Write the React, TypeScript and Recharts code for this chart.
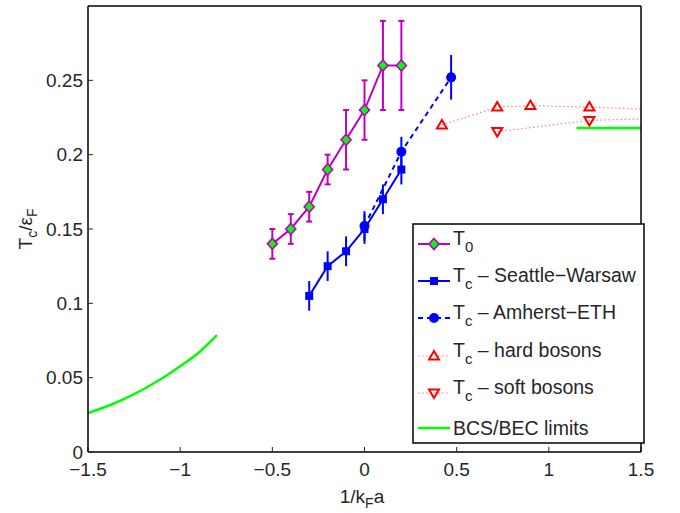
import React from 'react';
import { ComposedChart, Line, XAxis, YAxis, ErrorBar } from 'recharts';

// ---------------- data ----------------
const X_TICKS = [-1.5, -1, -0.5, 0, 0.5, 1, 1.5];
const Y_TICKS = [0, 0.05, 0.1, 0.15, 0.2, 0.25];
const X_DOMAIN: [number, number] = [-1.5, 1.5];
const Y_DOMAIN: [number, number] = [0, 0.3];

const T0_X = [-0.5, -0.4, -0.3, -0.2, -0.1, 0, 0.1, 0.2];
const T0_Y = [0.14, 0.15, 0.165, 0.19, 0.21, 0.23, 0.26, 0.26];
const T0_ERR = [0.01, 0.01, 0.01, 0.01, 0.02, 0.02, 0.03, 0.03];

const SW_X = [-0.3, -0.2, -0.1, 0, 0.1, 0.2];
const SW_Y = [0.105, 0.125, 0.135, 0.15, 0.17, 0.19];
const SW_ERR = [0.01, 0.01, 0.01, 0.01, 0.01, 0.01];

const AE_X = [0, 0.2, 0.47];
const AE_Y = [0.152, 0.202, 0.252];
const AE_ERR = [0.01, 0.01, 0.015];

const HARD_X = [0.42, 0.72, 0.9, 1.22, 2.0];
const HARD_Y = [0.22, 0.232, 0.233, 0.232, 0.2285];

const SOFT_X = [0.72, 1.22, 2.0];
const SOFT_Y = [0.2155, 0.223, 0.226];

const BCS_X = [-1.5, -1.4, -1.3, -1.2, -1.1, -1.0, -0.9, -0.8];
const BCS_Y = [0.0262, 0.0306, 0.0359, 0.0422, 0.0494, 0.0577, 0.0668, 0.0786];
const BEC_X = [1.15, 1.5];
const BEC_Y = [0.218, 0.218];

const LEGEND_MAIN = ['T', 'T', 'T', 'T', 'T', 'BCS/BEC limits'];
const LEGEND_SUB = ['0', 'c', 'c', 'c', 'c', ''];
const LEGEND_REST = ['', ' \u2013 Seattle\u2212Warsaw', ' \u2013 Amherst\u2212ETH', ' \u2013 hard bosons', ' \u2013 soft bosons', ''];

// ---------------- style ----------------
const FONT = '"Liberation Sans", Arial, Helvetica, sans-serif';
const TXT = '#262626';
const MAG = '#bf00bf';
const GREEN = '#00ff00';
const BLUE = '#0000ff';
const RED = '#ff0000';
const DOT_RED = '#ff8080';

const t0Data = T0_X.map((x, i) => ({ x, y: T0_Y[i], err: T0_ERR[i] }));
const swData = SW_X.map((x, i) => ({ x, y: SW_Y[i], err: SW_ERR[i] }));
const aeData = AE_X.map((x, i) => ({ x, y: AE_Y[i], err: AE_ERR[i] }));
const hardData = HARD_X.map((x, i) => ({ x, y: HARD_Y[i] }));
const softData = SOFT_X.map((x, i) => ({ x, y: SOFT_Y[i] }));
const limData = [
  ...BCS_X.map((x, i) => ({ x, y: BCS_Y[i] as number | null })),
  { x: 0, y: null },
  ...BEC_X.map((x, i) => ({ x, y: BEC_Y[i] as number | null })),
];

function Marker({ kind, cx, cy }: { kind: string; cx: number; cy: number }) {
  switch (kind) {
    case 'diamond':
      return (
        <path
          d={`M${cx},${cy - 5.5}L${cx + 5},${cy}L${cx},${cy + 5.5}L${cx - 5},${cy}Z`}
          fill={GREEN}
          stroke={MAG}
          strokeWidth={1.6}
        />
      );
    case 'square':
      return <rect x={cx - 4} y={cy - 4} width={8} height={8} fill={BLUE} />;
    case 'circle':
      return <circle cx={cx} cy={cy} r={5} fill={BLUE} />;
    case 'up':
      return (
        <path
          d={`M${cx},${cy - 5}L${cx + 5},${cy + 3.5}L${cx - 5},${cy + 3.5}Z`}
          fill="none"
          stroke={RED}
          strokeWidth={2}
        />
      );
    case 'down':
      return (
        <path
          d={`M${cx},${cy + 5}L${cx + 5},${cy - 3.5}L${cx - 5},${cy - 3.5}Z`}
          fill="none"
          stroke={RED}
          strokeWidth={2}
        />
      );
    default:
      return null;
  }
}

function makeDot(kind: string) {
  return (p: any) => {
    const { cx, cy, index, payload } = p;
    const key = `${kind}-${index}`;
    if (cx == null || cy == null || payload == null || payload.y == null || payload.x > X_DOMAIN[1]) {
      return <g key={key} />;
    }
    return (
      <g key={key}>
        <Marker kind={kind} cx={cx} cy={cy} />
      </g>
    );
  };
}

const fmt = (v: number) => (v < 0 ? '\u2212' + String(Math.abs(v)) : String(v));

const LEG_STYLE = [
  { color: MAG, dash: undefined as string | undefined, marker: 'diamond', w: 2 },
  { color: BLUE, dash: undefined, marker: 'square', w: 2 },
  { color: BLUE, dash: '5 4', marker: 'circle', w: 2 },
  { color: DOT_RED, dash: '1.5 2.5', marker: 'up', w: 1.2 },
  { color: DOT_RED, dash: '1.5 2.5', marker: 'down', w: 1.2 },
  { color: GREEN, dash: undefined, marker: '', w: 2.5 },
];

function Overlay() {
  const lx = 413;
  const ly = 224;
  const rowY = [244, 281, 318, 356, 393, 428];
  return (
    <svg
      width={680}
      height={513}
      style={{ position: 'absolute', left: 0, top: 0, pointerEvents: 'none' }}
      fontFamily={FONT}
    >
      {/* y label */}
      <text
        transform="translate(32,229) rotate(-90)"
        textAnchor="middle"
        fontSize={19}
        fill={TXT}
      >
        T<tspan fontSize={14} dy={5}>c</tspan>
        <tspan dy={-5}>/</tspan>
        <tspan>ε</tspan>
        <tspan fontSize={14} dy={5}>F</tspan>
      </text>
      {/* x label */}
      <text x={362} y={503} textAnchor="middle" fontSize={19} fill={TXT}>
        1/k<tspan fontSize={14} dy={5}>F</tspan>
        <tspan dy={-5}>a</tspan>
      </text>
      {/* legend */}
      <rect x={lx} y={ly} width={231} height={219} fill="#fff" stroke="#000" strokeWidth={1.5} />
      {LEGEND_MAIN.map((m, i) => {
        const st = LEG_STYLE[i];
        const y = rowY[i];
        return (
          <g key={i}>
            <line x1={418} x2={450} y1={y} y2={y} stroke={st.color} strokeWidth={st.w} strokeDasharray={st.dash} />
            {st.marker && <Marker kind={st.marker} cx={434} cy={y} />}
            {LEGEND_SUB[i] ? (
              <text x={453} y={y + 1} fontSize={19.5} fill={TXT}>
                {m}
                <tspan fontSize={15} dy={7}>{LEGEND_SUB[i]}</tspan>
                <tspan dy={-7}>{LEGEND_REST[i]}</tspan>
              </text>
            ) : (
              <text x={453} y={y + 7} fontSize={19.5} fill={TXT}>
                {m}
              </text>
            )}
          </g>
        );
      })}
    </svg>
  );
}

export default function App() {
  return (
    <div style={{ position: 'absolute', left: 0, top: 0, width: 680, height: 513, background: '#fff' }}>
      <ComposedChart width={680} height={513} margin={{ top: 5, right: 38, bottom: 0, left: 0 }}>
        <XAxis
          dataKey="x"
          type="number"
          domain={X_DOMAIN}
          ticks={X_TICKS}
          allowDataOverflow
          height={61}
          tickSize={-5}
          tickMargin={16}
          tickFormatter={fmt}
          axisLine={{ stroke: '#000', strokeWidth: 1.5 }}
          tickLine={{ stroke: TXT, strokeWidth: 1 }}
          tick={{ fill: TXT, fontSize: 19, fontFamily: FONT }}
          interval={0}
        />
        <XAxis
          xAxisId="top"
          orientation="top"
          dataKey="x"
          type="number"
          domain={X_DOMAIN}
          ticks={X_TICKS}
          allowDataOverflow
          height={1}
          tickSize={-5}
          tick={false}
          axisLine={{ stroke: '#000', strokeWidth: 1.5 }}
          tickLine={{ stroke: TXT, strokeWidth: 1 }}
          interval={0}
        />
        <YAxis
          type="number"
          domain={Y_DOMAIN}
          ticks={Y_TICKS}
          allowDataOverflow
          width={88}
          tickSize={-5}
          tickMargin={10}
          axisLine={{ stroke: '#000', strokeWidth: 1.5 }}
          tickLine={{ stroke: TXT, strokeWidth: 1 }}
          tick={{ fill: TXT, fontSize: 19, fontFamily: FONT }}
          interval={0}
        />
        <YAxis
          yAxisId="right"
          orientation="right"
          type="number"
          domain={Y_DOMAIN}
          ticks={Y_TICKS}
          allowDataOverflow
          width={1}
          tickSize={-5}
          tick={false}
          axisLine={{ stroke: '#000', strokeWidth: 1.5 }}
          tickLine={{ stroke: TXT, strokeWidth: 1 }}
          interval={0}
        />
        <Line
          data={limData}
          dataKey="y"
          type="monotone"
          stroke={GREEN}
          strokeWidth={2.5}
          dot={false}
          activeDot={false}
          connectNulls={false}
          isAnimationActive={false}
        />
        <Line
          data={hardData}
          dataKey="y"
          stroke={DOT_RED}
          strokeWidth={1.2}
          strokeDasharray="1.5 2.5"
          dot={makeDot('up')}
          activeDot={false}
          isAnimationActive={false}
        />
        <Line
          data={softData}
          dataKey="y"
          stroke={DOT_RED}
          strokeWidth={1.2}
          strokeDasharray="1.5 2.5"
          dot={makeDot('down')}
          activeDot={false}
          isAnimationActive={false}
        />
        <Line
          data={t0Data}
          dataKey="y"
          stroke={MAG}
          strokeWidth={2}
          dot={makeDot('diamond')}
          activeDot={false}
          isAnimationActive={false}
        >
          <ErrorBar dataKey="err" direction="y" width={3} stroke={MAG} strokeWidth={2} />
        </Line>
        <Line
          data={swData}
          dataKey="y"
          stroke={BLUE}
          strokeWidth={2}
          dot={makeDot('square')}
          activeDot={false}
          isAnimationActive={false}
        >
          <ErrorBar dataKey="err" direction="y" width={0} stroke={BLUE} strokeWidth={2} />
        </Line>
        <Line
          data={aeData}
          dataKey="y"
          stroke={BLUE}
          strokeWidth={2}
          strokeDasharray="5 4"
          dot={makeDot('circle')}
          activeDot={false}
          isAnimationActive={false}
        >
          <ErrorBar dataKey="err" direction="y" width={0} stroke={BLUE} strokeWidth={2} />
        </Line>
      </ComposedChart>
      <Overlay />
    </div>
  );
}
